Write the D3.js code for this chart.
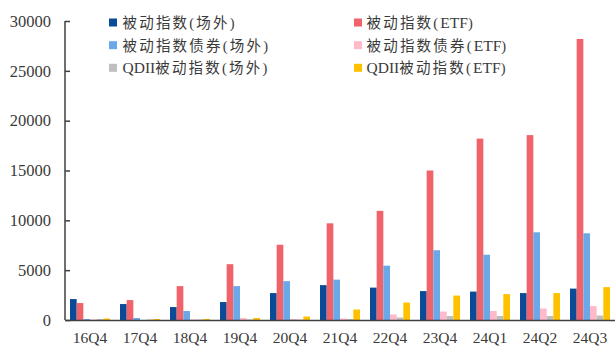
<!DOCTYPE html>
<html><head><meta charset="utf-8">
<script src="https://cdn.jsdelivr.net/npm/d3@7/dist/d3.min.js"></script>
<style>body{margin:0;background:#fff}svg{display:block}</style>
</head><body><svg id="c" width="615" height="357"></svg>
<script>
const categories = ["16Q4","17Q4","18Q4","19Q4","20Q4","21Q4","22Q4","23Q4","24Q1","24Q2","24Q3"];
const seriesNames = ["被动指数(场外)","被动指数(ETF)","被动指数债券(场外)","被动指数债券(ETF)","QDII被动指数(场外)","QDII被动指数(ETF)"];
const colors = ["#0B4A96","#F0636A","#6AA8E8","#FFB9C9","#BFBFBF","#FFC000"];
const passiveOTC   = [2100,1600,1300,1800,2700,3500,3250,2900,2850,2700,3150];
const passiveETF   = [1700,2000,3400,5600,7550,9700,10950,15000,18200,18550,28200];
const bondOTC      = [100,200,900,3400,3900,4050,5450,7000,6550,8800,8700];
const bondETF      = [50,0,50,200,100,150,550,850,900,1150,1400];
const qdiiOTC      = [100,50,50,50,50,100,250,400,400,400,450];
const qdiiETF      = [150,100,100,200,350,1050,1750,2450,2600,2700,3300];
const yTicks = [0,5000,10000,15000,20000,25000,30000];
const series = [passiveOTC,passiveETF,bondOTC,bondETF,qdiiOTC,qdiiETF];

(function(){
const svg = d3.select("#c");
const L = 65, R = 615, T = 21, B = 320;
const x = d3.scaleBand().domain(categories).range([L, R]).paddingInner(0.2).paddingOuter(0.1);
const xs = d3.scaleBand().domain(d3.range(6)).range([0, x.bandwidth()]);
const y = d3.scaleLinear().domain([0,30000]).range([B, T]);

categories.forEach((c,i)=>{
  series.forEach((s,j)=>{
    svg.append("rect").attr("x", x(c)+xs(j)).attr("width", xs.bandwidth())
      .attr("y", y(s[i])).attr("height", B - y(s[i])).attr("fill", colors[j]);
  });
});

const ya = svg.append("g").attr("transform",`translate(${L},0)`)
  .call(d3.axisLeft(y).tickValues(yTicks).tickSize(-5).tickPadding(14).tickFormat(d3.format("d")));
ya.select(".domain").attr("stroke","#404040").attr("stroke-width",1.5).attr("d",`M0,${T}V${B}`);
ya.selectAll(".tick line").attr("stroke","#404040").attr("stroke-width",1.5);
ya.selectAll("text").attr("font-family","'Liberation Serif',serif").attr("font-size",16.5).attr("fill","#3a3a3a");

const xa = svg.append("g").attr("transform",`translate(0,${B})`)
  .call(d3.axisBottom(x).tickSize(0).tickPadding(12));
xa.select(".domain").attr("stroke","#404040").attr("stroke-width",1.5);
xa.selectAll("text").attr("font-family","'Liberation Serif',serif").attr("font-size",15.5).attr("fill","#3a3a3a");

const legX = [109, 354], legTX = [13.5, 12.5], legY = [23, 45.7, 68.3];
seriesNames.forEach((n,j)=>{
  const col = j % 2, row = Math.floor(j/2);
  const g = svg.append("g").attr("transform",`translate(${legX[col]},${legY[row]})`);
  g.append("rect").attr("x",0).attr("y",-4.5).attr("width",8).attr("height",8).attr("fill",colors[j]);
  const t = g.append("text").attr("x",legTX[col]).attr("y",0).attr("dy","0.35em")
    .attr("font-family","'Liberation Serif','Noto Sans CJK SC',serif").attr("font-size",14.5)
    .attr("fill","#3a3a3a");
  const runs = n.match(/[A-Za-z]+|[^A-Za-z]+/g);
  runs.forEach(r=>{
    const latin = /^[A-Za-z]/.test(r);
    t.append("tspan").attr("font-size", latin ? 15.5 : 14.5)
      .attr("letter-spacing", latin ? "0px" : "2.2px").text(r);
  });
});
})();
</script></body></html>
